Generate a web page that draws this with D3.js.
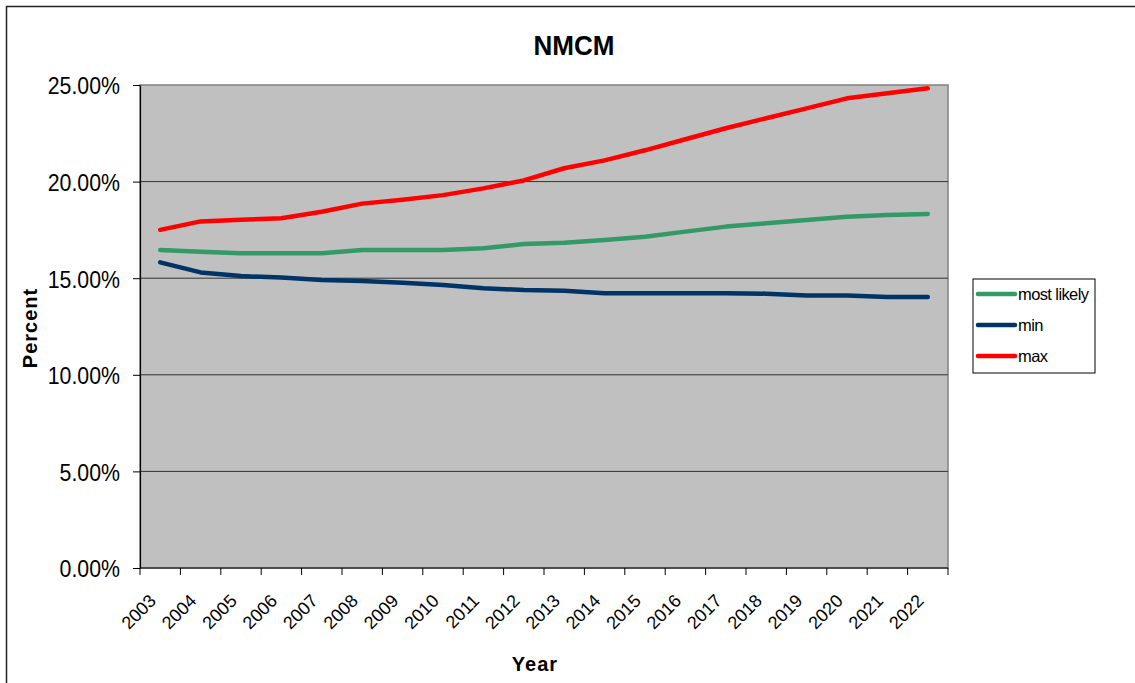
<!DOCTYPE html>
<html><head><meta charset="utf-8">
<script src="https://cdn.jsdelivr.net/npm/d3@7"></script>
<style>body{margin:0;background:#fff;}svg{display:block;font-family:"Liberation Sans",Arial,sans-serif;}</style>
</head><body>
<svg id="c" width="1135" height="683"></svg>
<script>
const years = ["2003","2004","2005","2006","2007","2008","2009","2010","2011","2012","2013","2014","2015","2016","2017","2018","2019","2020","2021","2022"];
const mostLikely = [16.46,16.37,16.29,16.29,16.29,16.46,16.46,16.46,16.55,16.77,16.84,16.98,17.15,17.41,17.67,17.84,18.01,18.18,18.27,18.32];
const minVals = [15.82,15.30,15.11,15.03,14.91,14.85,14.76,14.65,14.48,14.39,14.35,14.22,14.22,14.22,14.22,14.20,14.11,14.11,14.03,14.03];
const maxVals = [17.50,17.94,18.02,18.10,18.44,18.86,19.06,19.30,19.65,20.06,20.69,21.10,21.62,22.19,22.76,23.28,23.79,24.31,24.57,24.83];
const yTicks = [0,5,10,15,20,25];
const seriesNames = ["most likely","min","max"];
const seriesColors = ["#339966","#003366","#ff0000"];
const seriesData = [mostLikely, minVals, maxVals];

const svg = d3.select("#c");
const L=140, R=948, T=85, B=568;

// outer border
svg.append("rect").attr("x",6.5).attr("y",6.5).attr("width",1140).attr("height",700)
  .attr("fill","none").attr("stroke","#222").attr("stroke-width",1.5);

const x = d3.scaleBand().domain(years).range([L,R]).padding(0);
const y = d3.scaleLinear().domain([0,25]).range([B,T]);

svg.append("rect").attr("x",L).attr("y",T).attr("width",R-L).attr("height",B-T)
  .attr("fill","#c0c0c0").attr("stroke","#808080").attr("stroke-width",1.5);

// gridlines
svg.append("g").selectAll("line").data(yTicks.filter(d=>d>0&&d<25)).join("line")
  .attr("x1",L).attr("x2",R).attr("y1",d=>y(d)).attr("y2",d=>y(d))
  .attr("stroke","#333").attr("stroke-width",1);

// y axis
const sx = 0.87;
const yAxis = d3.axisLeft(y).tickValues(yTicks).tickSize(7).tickSizeOuter(0)
  .tickFormat(d=>d.toFixed(2)+"%");
const gy = svg.append("g").attr("transform",`translate(${L},0)`).call(yAxis);
gy.select(".domain").attr("stroke","#000").attr("stroke-width",1.2);
gy.selectAll(".tick line").attr("stroke","#000");
gy.selectAll("text").attr("font-size",24.5).attr("fill","#000")
  .attr("transform",`scale(${sx},1)`).attr("x",-20/sx).attr("dy","0.36em")
  .attr("font-family","'Liberation Sans',Arial,sans-serif");

// x axis with ticks at category boundaries
const gx = svg.append("g").attr("transform",`translate(0,${B})`);
gx.append("line").attr("x1",L).attr("x2",R).attr("stroke","#000").attr("stroke-width",1.2);
const bounds = years.map(d=>x(d)).concat([x(years[years.length-1])+x.bandwidth()]);
gx.selectAll("line.t").data(bounds).join("line").attr("class","t")
  .attr("x1",d=>d).attr("x2",d=>d).attr("y1",0).attr("y2",7).attr("stroke","#000");
gx.selectAll("text").data(years).join("text")
  .attr("transform",d=>`translate(${x(d)+x.bandwidth()/2-3},${34}) rotate(-45)`)
  .attr("text-anchor","end").attr("font-size",18).attr("fill","#000").text(d=>d);

// lines
const line = d3.line().x((d,i)=>x(years[i])+x.bandwidth()/2).y(d=>y(d));
svg.append("g").selectAll("path").data(seriesData).join("path")
  .attr("d",d=>line(d)).attr("fill","none")
  .attr("stroke",(d,i)=>seriesColors[i]).attr("stroke-width",4.5)
  .attr("stroke-linejoin","round").attr("stroke-linecap","round");

// title
svg.append("text").attr("x",574).attr("y",55).attr("text-anchor","middle")
  .attr("font-size",27).attr("font-weight","bold").attr("textLength",81)
  .attr("lengthAdjust","spacingAndGlyphs").text("NMCM");

// axis titles
svg.append("text").attr("x",535).attr("y",671).attr("text-anchor","middle")
  .attr("font-size",20).attr("font-weight","bold").attr("letter-spacing",1).text("Year");
svg.append("text").attr("transform","translate(37,328) rotate(-90)").attr("text-anchor","middle")
  .attr("font-size",20).attr("font-weight","bold").attr("letter-spacing",1).text("Percent");

// legend
const lg = svg.append("g");
lg.append("rect").attr("x",973).attr("y",279).attr("width",122).attr("height",94)
  .attr("fill","#fff").attr("stroke","#000").attr("stroke-width",1);
const items = lg.selectAll("g").data(seriesNames).join("g")
  .attr("transform",(d,i)=>`translate(0,${294+i*31})`);
items.append("line").attr("x1",978).attr("x2",1015).attr("stroke",(d,i)=>seriesColors[i])
  .attr("stroke-width",4.5).attr("stroke-linecap","round");
items.append("text").attr("x",1018).attr("y",0).attr("dy","0.35em").attr("font-size",16.5)
  .attr("letter-spacing",-0.6).text(d=>d);
</script>
</body></html>
